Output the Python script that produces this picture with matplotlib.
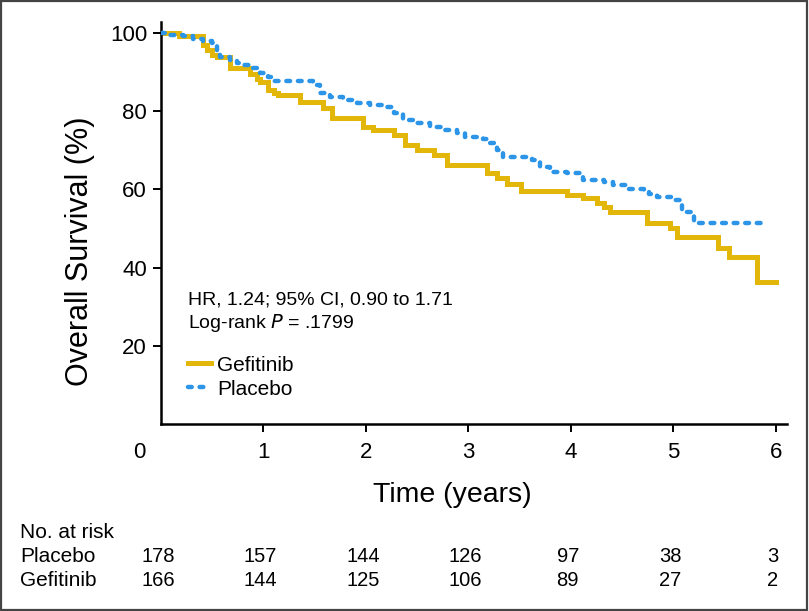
import matplotlib
matplotlib.use("Agg")
import matplotlib.pyplot as plt
from matplotlib.patches import Rectangle
import matplotlib.transforms as mtransforms

# Kaplan-Meier steps (years, % surviving)
gef_t = [0, 0.18, 0.41, 0.45, 0.50, 0.55, 0.67, 0.87, 0.94, 0.97, 1.04, 1.10, 1.14,
         1.36, 1.58, 1.67, 1.97, 2.07, 2.27, 2.38, 2.50, 2.66, 2.79, 3.18, 3.28,
         3.38, 3.51, 3.96, 4.12, 4.26, 4.32, 4.38, 4.74, 4.97, 5.04, 5.44, 5.54,
         5.82, 6.00]
gef_s = [100, 99.2, 97.0, 95.6, 94.4, 93.8, 91.0, 89.5, 88.2, 87.4, 85.4, 84.6, 84.1,
         82.3, 80.8, 78.3, 75.9, 75.1, 73.8, 71.3, 70.0, 68.7, 66.2, 64.1, 62.8,
         61.5, 59.7, 58.5, 57.7, 56.4, 55.4, 54.1, 51.5, 50.0, 47.7, 45.1, 42.6,
         36.4, 36.4]

pla_t = [0, 0.09, 0.21, 0.31, 0.41, 0.50, 0.55, 0.58, 0.67, 0.74, 0.80, 0.87, 0.97,
         1.04, 1.09, 1.48, 1.55, 1.65, 1.78, 1.91, 2.04, 2.21, 2.27, 2.36, 2.50,
         2.63, 2.75, 2.89, 2.97, 3.14, 3.21, 3.28, 3.34, 3.62, 3.70, 3.80, 3.96,
         4.12, 4.32, 4.41, 4.55, 4.71, 4.76, 4.84, 5.00, 5.07, 5.09, 5.20, 5.87]
pla_s = [100, 99.5, 99.2, 98.5, 97.9, 97.4, 95.1, 93.8, 93.1, 92.3, 91.8, 91.0, 89.7,
         88.7, 87.7, 86.7, 84.6, 83.6, 82.8, 82.0, 81.5, 81.0, 79.5, 77.7, 76.9,
         75.9, 75.1, 74.4, 73.3, 72.8, 71.8, 70.0, 68.2, 67.4, 65.6, 64.4, 64.1,
         62.3, 61.8, 61.0, 60.0, 59.7, 58.7, 58.0, 57.4, 56.7, 54.1, 51.5, 51.5]

risk_times = [0, 1, 2, 3, 4, 5, 6]
risk_placebo = [178, 157, 144, 126, 97, 38, 3]
risk_gefitinib = [166, 144, 125, 106, 89, 27, 2]

YELLOW = "#E2B70A"
BLUE = "#2C95E8"
plt.rcParams["font.family"] = ["Liberation Sans", "DejaVu Sans"]

fig = plt.figure(figsize=(8.09, 6.11), dpi=100)
ax = fig.add_axes([161 / 809, 1 - 424 / 611, (787 - 161) / 809, (424 - 22) / 611])

ax.step(gef_t, gef_s, where="post", color=YELLOW, lw=3.6, solid_joinstyle="miter",
        label="Gefitinib", zorder=2)
ax.step(pla_t, pla_s, where="post", color=BLUE, lw=3.2, linestyle=(0, (0.85, 1.75)),
        dash_capstyle="round", label="Placebo", zorder=3)

ax.set_xlim(0, 6.11)
ax.set_ylim(0, 102.8)
ax.set_xticks([1, 2, 3, 4, 5, 6])
ax.set_yticks([20, 40, 60, 80, 100])
ax.tick_params(labelsize=16, length=6, width=1.4, direction="out")
ax.tick_params(axis="x", pad=7)
ax.tick_params(axis="y", pad=4)
for side in ["top", "right"]:
    ax.spines[side].set_visible(False)
for side in ["left", "bottom"]:
    ax.spines[side].set_linewidth(1.8)

# origin label sits below-left of the corner, on the same baseline as the x ticks
fig.text(139 / 809, 1 - 452 / 611, "0", fontsize=16, ha="center", va="center")

fig.text(80 / 809, 1 - 251 / 611, "Overall Survival (%)", rotation=90, fontsize=22,
         ha="center", va="center")
fig.text(452 / 809, 1 - 495 / 611, "Time (years)", fontsize=20.5, ha="center",
         va="center")

ax.text(0.043, 0.308, "HR, 1.24; 95% CI, 0.90 to 1.71", transform=ax.transAxes,
        fontsize=14, va="center")
ax.text(0.043, 0.251, "Log-rank $P$ = .1799", transform=ax.transAxes,
        fontsize=14, va="center")

leg = ax.legend(loc="upper left", bbox_to_anchor=(0.030, 0.191), borderaxespad=0,
                frameon=False, fontsize=15, handlelength=1.1, handletextpad=0.3,
                labelspacing=0.25)

# number at risk table
fig.text(20 / 809, 1 - 532 / 611, "No. at risk", fontsize=15, va="center")
trans = mtransforms.blended_transform_factory(ax.transData, fig.transFigure)
for name, vals, ypix in [("Placebo", risk_placebo, 557), ("Gefitinib", risk_gefitinib, 580)]:
    fig.text(20 / 809, 1 - ypix / 611, name, fontsize=15, va="center")
    for t, v in zip(risk_times, vals):
        ax.text(t - 0.03, 1 - ypix / 611, str(v), transform=trans, fontsize=14.5,
                ha="center", va="center", clip_on=False)

# thin frame round the whole picture
fig.patches.append(Rectangle((0.001, 0.001), 0.997, 0.997, transform=fig.transFigure,
                             fill=False, edgecolor="#444444", lw=1.6))

fig.savefig("out.png", dpi=100)
